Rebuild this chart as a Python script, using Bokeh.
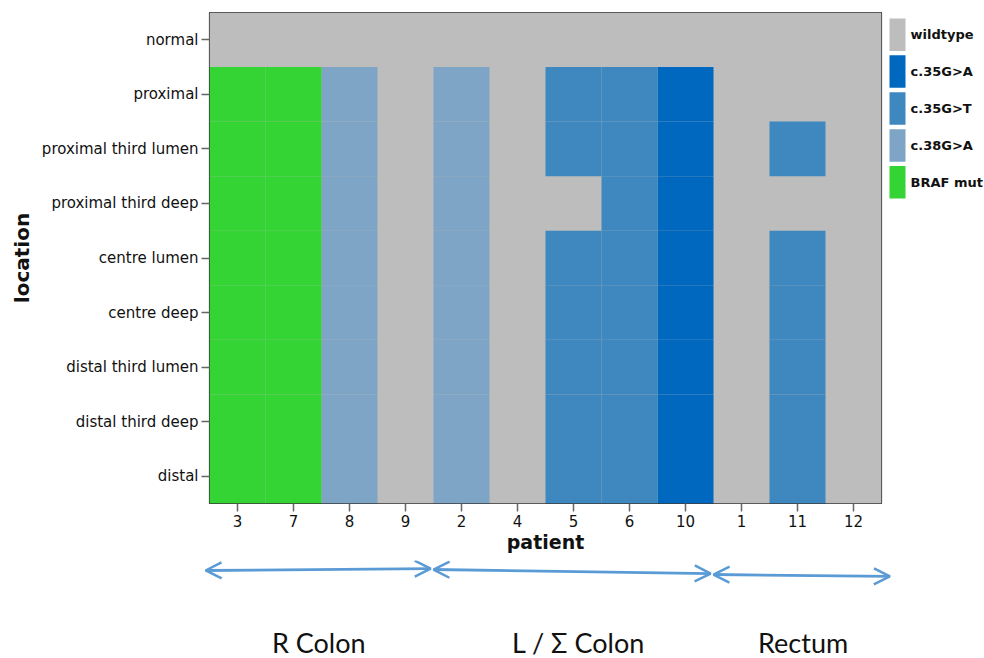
from bokeh.plotting import figure
from bokeh.layouts import column, row
from bokeh.models import (FactorRange, ColumnDataSource, Arrow, OpenHead, Label,
                          Range1d)
from bokeh.core.properties import value
from bokeh.embed import file_html
from bokeh.resources import INLINE

patients = ["3", "7", "8", "9", "2", "4", "5", "6", "10", "1", "11", "12"]
locations = ["normal", "proximal", "proximal third lumen", "proximal third deep",
             "centre lumen", "centre deep", "distal third lumen",
             "distal third deep", "distal"]
categories = ["wildtype", "c.35G>A", "c.35G>T", "c.38G>A", "BRAF mut"]
colors = ["#bdbdbd", "#0069bf", "#3f87bf", "#7ea5c5", "#35d435"]

W, A, T, G, B = categories
# status per patient, in the order of `locations`
status = {
    "3":  [W, B, B, B, B, B, B, B, B],
    "7":  [W, B, B, B, B, B, B, B, B],
    "8":  [W, G, G, G, G, G, G, G, G],
    "9":  [W, W, W, W, W, W, W, W, W],
    "2":  [W, G, G, G, G, G, G, G, G],
    "4":  [W, W, W, W, W, W, W, W, W],
    "5":  [W, T, T, W, T, T, T, T, T],
    "6":  [W, T, T, T, T, T, T, T, T],
    "10": [W, A, A, A, A, A, A, A, A],
    "1":  [W, W, W, W, W, W, W, W, W],
    "11": [W, W, T, W, T, T, T, T, T],
    "12": [W, W, W, W, W, W, W, W, W],
}
groups = ["R Colon", "L / \u03a3 Colon", "Rectum"]
group_sizes = [4, 5, 3]

FONT = "DejaVu Sans"

p = figure(width=884, height=560, output_backend="svg", toolbar_location=None,
           x_range=FactorRange(*patients), y_range=FactorRange(*reversed(locations)),
           min_border_left=209, min_border_right=3, min_border_top=12,
           min_border_bottom=57)
p.x_range.range_padding = 0
p.y_range.range_padding = 0

for cat, col in zip(categories, colors):
    xs, ys = [], []
    for pt in patients:
        for loc, s in zip(locations, status[pt]):
            if s == cat:
                xs.append(pt)
                ys.append(loc)
    src = ColumnDataSource(dict(x=xs, y=ys))
    p.rect(x="x", y="y", width=1, height=1, source=src,
           fill_color=col, line_color=None)

p.grid.visible = False
p.outline_line_color = "#3a3a3a"
p.outline_line_width = 1.2
p.background_fill_color = "#bdbdbd"

for ax in (p.xaxis, p.yaxis):
    ax.axis_line_color = None
    ax.major_tick_line_color = "#666666"
    ax.major_tick_line_width = 1.5
    ax.major_tick_in = 0
    ax.major_tick_out = 8
    ax.minor_tick_line_color = None
    ax.major_label_text_font = FONT
    ax.major_label_text_font_size = "15px"
    ax.major_label_text_color = "#111111"
    ax.axis_label_text_font = FONT
    ax.axis_label_text_font_style = "bold"
    ax.axis_label_text_color = "#111111"

p.xaxis.axis_label = "patient"
p.xaxis.axis_label_text_font_size = "19px"
p.xaxis.axis_label_standoff = 1
p.xaxis.major_label_standoff = 3
p.yaxis.axis_label = "location"
p.yaxis.axis_label_text_font_size = "20px"
p.yaxis.axis_label_standoff = 5
p.yaxis.major_label_standoff = 3

# legend panel on the right: one swatch row per category (first at top),
# frame aligned with the heatmap frame
r = figure(width=100, height=560, output_backend="svg", toolbar_location=None,
           x_range=Range1d(0, 97), y_range=Range1d(13.2, -0.1),
           min_border_left=3, min_border_right=0, min_border_top=12,
           min_border_bottom=57)
r.axis.visible = False
r.grid.visible = False
r.outline_line_color = None
leg = ColumnDataSource(dict(cat=categories, col=colors,
                            pos=[i + 0.5 for i in range(len(categories))]))
r.rect(x=10, y="pos", width=16, height=0.88, fill_color="col", line_color=None,
       source=leg)
r.text(x=23, y="pos", text="cat", source=leg, text_baseline="middle",
       text_font=value(FONT), text_font_size=value("13px"),
       text_font_style="bold", text_color="#111111")

# region arrows and labels below the chart, on the same x scale (56 px per patient)
q = figure(width=984, height=98, output_backend="svg", toolbar_location=None,
           x_range=Range1d(-0.25, 12.25), y_range=Range1d(0, 1),
           min_border_left=195, min_border_right=89, min_border_top=0,
           min_border_bottom=0)
q.axis.visible = False
q.grid.visible = False
q.outline_line_color = None

arrow_color = "#5b9bd5"
start = 0
ys0 = [0.898, 0.908, 0.857]
ys1 = [0.918, 0.867, 0.837]
for g, n, y0, y1 in zip(groups, group_sizes, ys0, ys1):
    x0 = start - 0.07 if start == 0 else start + 0.0
    x1 = start + n - 0.05 if start + n < len(patients) else start + n + 0.15
    q.add_layout(Arrow(start=OpenHead(size=16, line_color=arrow_color, line_width=2.5),
                       end=OpenHead(size=16, line_color=arrow_color, line_width=2.5),
                       x_start=x0, y_start=y0, x_end=x1, y_end=y1,
                       line_color=arrow_color, line_width=2.8))
    start += n

label_x = [1.95, 6.59, 10.6]
for g, lx in zip(groups, label_x):
    q.add_layout(Label(x=lx, y=0.16, text=g, text_align="center",
                       text_baseline="middle", text_font="Lato",
                       text_font_size="27px", text_color="#111111"))

open("out.html", "w").write(file_html(column(row(p, r, spacing=0), q, spacing=0), INLINE))
